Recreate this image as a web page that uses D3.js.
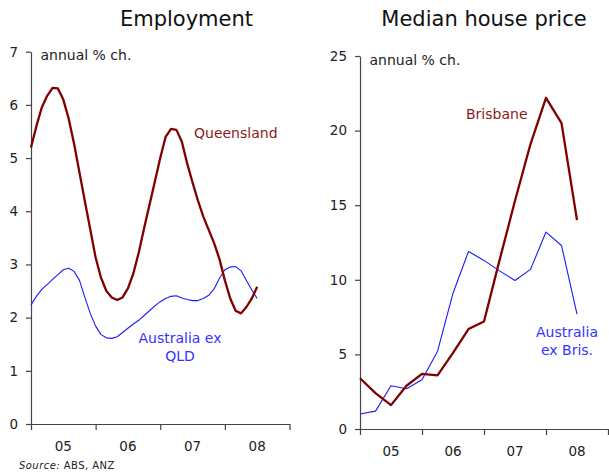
<!DOCTYPE html>
<html>
<head>
<meta charset="utf-8">
<script src="https://cdn.jsdelivr.net/npm/d3@7"></script>
<style>
  html, body { margin: 0; padding: 0; background: #fff; }
  svg { display: block; font-family: "DejaVu Sans", Verdana, sans-serif; }
</style>
</head>
<body>
<svg id="chart" width="609" height="472"></svg>
<script>
// ---------- DATA ----------
const yearTicks = [2005, 2006, 2007, 2008, 2009];
const yearLabels = ["05", "06", "07", "08"];

// Employment, monthly Jan-05 .. Jul-08 (annual % ch.)
const employmentMonths = d3.range(43).map(m => 2005 + m / 12);
const queenslandEmp = [5.2, 5.6, 5.95, 6.17, 6.32, 6.31, 6.10, 5.74, 5.27, 4.73,
  4.19, 3.66, 3.13, 2.75, 2.50, 2.38, 2.33, 2.38, 2.55, 2.83,
  3.22, 3.68, 4.12, 4.56, 5.00, 5.40, 5.55, 5.53, 5.31, 4.90,
  4.54, 4.20, 3.90, 3.65, 3.40, 3.10, 2.70, 2.36, 2.13, 2.08,
  2.20, 2.36, 2.58];
const ausExQldEmp = [2.24, 2.40, 2.53, 2.62, 2.72, 2.81, 2.90, 2.93, 2.87, 2.70,
  2.38, 2.08, 1.84, 1.68, 1.62, 1.61, 1.64, 1.72, 1.80, 1.88,
  1.95, 2.04, 2.13, 2.22, 2.30, 2.36, 2.40, 2.41, 2.37, 2.34,
  2.32, 2.32, 2.36, 2.42, 2.54, 2.74, 2.90, 2.95, 2.96, 2.88,
  2.70, 2.52, 2.36];

// Median house price, quarterly Q1-05 .. Q3-08 (annual % ch.)
const houseQuarters = d3.range(15).map(k => 2005 + k / 4);
const brisbaneHouse = [3.4, 2.4, 1.6, 2.9, 3.7, 3.6, 5.1, 6.7, 7.2, 11.3, 15.3, 19.1, 22.2, 20.5, 14.0];
const ausExBrisHouse = [1.0, 1.2, 2.9, 2.7, 3.3, 5.2, 9.1, 11.9, 11.3, 10.6, 9.95, 10.7, 13.2, 12.3, 7.7];

const empTicks = [0, 1, 2, 3, 4, 5, 6, 7];
const houseTicks = [0, 5, 10, 15, 20, 25];

// ---------- STYLE ----------
const RED = "#800000", RED_TXT = "#8B1A1A";
const BLUE = "#1a1aff", BLUE_TXT = "#3333ff";
const AXIS = "#444", TXT = "#222";

const svg = d3.select("#chart");

function panel(opts) {
  const g = svg.append("g");
  const x = d3.scaleLinear().domain([2005, 2009]).range(opts.xr);
  const y = d3.scaleLinear().domain(opts.yd).range(opts.yr);

  // y axis
  const ya = g.append("g").attr("transform", `translate(${opts.xr[0]},0)`)
    .call(d3.axisLeft(y).tickValues(opts.yTicks).tickFormat(d3.format("d"))
      .tickSize(5).tickPadding(8).tickSizeOuter(0));
  // x axis
  const xa = g.append("g").attr("transform", `translate(0,${opts.yr[0]})`)
    .call(d3.axisBottom(x).tickValues(yearTicks).tickFormat("").tickSize(6).tickSizeOuter(0));
  [ya, xa].forEach(a => {
    a.select(".domain").attr("stroke", AXIS).attr("stroke-width", 1.2);
    a.selectAll(".tick line").attr("stroke", AXIS).attr("stroke-width", 1.2);
    a.selectAll("text").attr("fill", TXT).style("font-size", "13.5px")
      .style("font-family", "'DejaVu Sans', Verdana, sans-serif");
  });
  // year labels between ticks
  g.selectAll(".yl").data(yearLabels).enter().append("text")
    .attr("x", (d, i) => x(yearTicks[i] + 0.5))
    .attr("y", opts.yr[0] + 27)
    .attr("text-anchor", "middle").attr("fill", TXT)
    .style("font-size", "13.5px").text(d => d);

  // title
  g.append("text").attr("x", opts.titleX).attr("y", 26.3)
    .attr("text-anchor", "middle").attr("fill", "#111")
    .style("font-size", "21px").text(opts.title);
  // unit
  g.append("text").attr("x", opts.xr[0] + 9.5).attr("y", opts.yr[1] + 8.5)
    .attr("fill", TXT).style("font-size", "14px").text("annual % ch.");

  const line = d3.line().x(d => x(d[0])).y(d => y(d[1]));
  opts.series.forEach(s => {
    g.append("path")
      .datum(d3.zip(s.xs, s.ys))
      .attr("fill", "none").attr("stroke", s.color)
      .attr("stroke-width", s.width).attr("stroke-linejoin", "round")
      .attr("d", line);
  });
  opts.labels.forEach(l => {
    const t = g.append("text").attr("fill", l.color).style("font-size", "14px")
      .attr("text-anchor", l.anchor);
    l.lines.forEach((s, i) => {
      t.append("tspan").attr("x", l.x).attr("y", l.y + i * l.lh).text(s);
    });
  });
}

panel({
  xr: [31, 289.5], yd: [0, 7], yr: [424, 51.7], yTicks: empTicks,
  title: "Employment", titleX: 186.5,
  series: [
    { xs: employmentMonths, ys: ausExQldEmp, color: BLUE, width: 1.1 },
    { xs: employmentMonths, ys: queenslandEmp, color: RED, width: 2.3 }
  ],
  labels: [
    { lines: ["Queensland"], x: 194, y: 137.5, color: RED_TXT, anchor: "start", lh: 0 },
    { lines: ["Australia ex", "QLD"], x: 180, y: 343, color: BLUE_TXT, anchor: "middle", lh: 17.5 }
  ]
});

panel({
  xr: [360, 608], yd: [0, 25], yr: [429, 56], yTicks: houseTicks,
  title: "Median house price", titleX: 484,
  series: [
    { xs: houseQuarters, ys: ausExBrisHouse, color: BLUE, width: 1.1 },
    { xs: houseQuarters, ys: brisbaneHouse, color: RED, width: 2.3 }
  ],
  labels: [
    { lines: ["Brisbane"], x: 466, y: 118.5, color: RED_TXT, anchor: "start", lh: 0 },
    { lines: ["Australia", "ex Bris."], x: 567, y: 337.3, color: BLUE_TXT, anchor: "middle", lh: 17.7 }
  ]
});

// source
const src = svg.append("text").attr("x", 19).attr("y", 469).attr("fill", TXT)
  .style("font-size", "10px").style("letter-spacing", "0.45px");
src.append("tspan").style("font-style", "italic").text("Source:");
src.append("tspan").text(" ABS, ANZ");
</script>
</body>
</html>
